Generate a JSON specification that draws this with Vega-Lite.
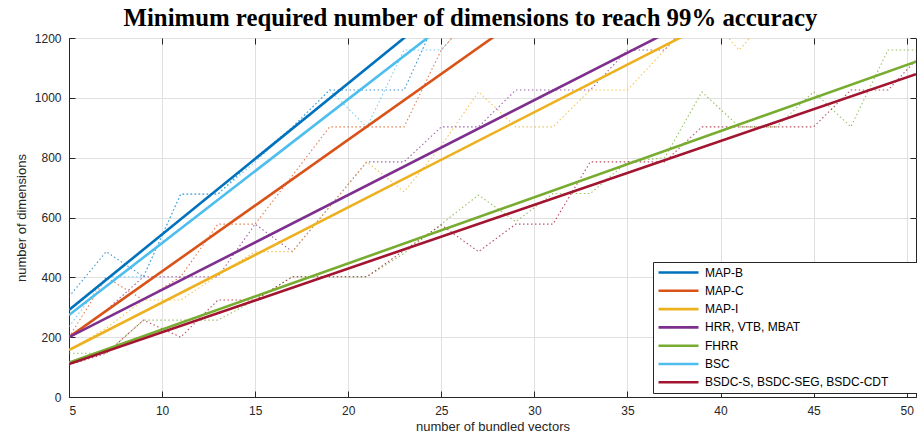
{
  "$schema": "https://vega.github.io/schema/vega-lite/v6.json",
  "width": 847,
  "height": 359,
  "autosize": "none",
  "padding": {"left": 69, "top": 38, "right": 1, "bottom": 45},
  "background": "white",
  "title": {
    "text": "Minimum required number of dimensions to reach 99% accuracy",
    "font": "Liberation Serif",
    "fontSize": 24.8,
    "fontWeight": "bold",
    "color": "black",
    "anchor": "middle",
    "frame": "group",
    "offset": 1,
    "dx": -22
  },
  "config": {
    "view": {"stroke": "#262626", "strokeWidth": 1},
    "axis": {
      "labelFont": "Liberation Sans",
      "titleFont": "Liberation Sans",
      "labelFontSize": 12,
      "titleFontSize": 13,
      "labelColor": "#262626",
      "titleColor": "#262626",
      "titleFontWeight": "normal",
      "gridColor": "#e0e0e0",
      "gridWidth": 1,
      "domainColor": "#262626",
      "tickColor": "#262626",
      "tickSize": -6,
      "labelPadding": 14
    },
    "legend": {
      "labelFont": "Liberation Sans",
      "labelFontSize": 12,
      "labelColor": "#000000"
    }
  },
  "resolve": {"axis": {"x": "independent", "y": "independent"}},
  "datasets": {
    "fit": [
      {"method": "MAP-B", "n": 5, "dims": 291},
      {"method": "MAP-B", "n": 50.5, "dims": 2589},
      {"method": "MAP-C", "n": 5, "dims": 200},
      {"method": "MAP-C", "n": 50.5, "dims": 2202},
      {"method": "MAP-I", "n": 5, "dims": 157},
      {"method": "MAP-I", "n": 50.5, "dims": 1604},
      {"method": "HRR, VTB, MBAT", "n": 5, "dims": 200},
      {"method": "HRR, VTB, MBAT", "n": 50.5, "dims": 1642},
      {"method": "FHRR", "n": 5, "dims": 115},
      {"method": "FHRR", "n": 50.5, "dims": 1121},
      {"method": "BSC", "n": 5, "dims": 274},
      {"method": "BSC", "n": 50.5, "dims": 2463},
      {"method": "BSDC-S, BSDC-SEG, BSDC-CDT", "n": 5, "dims": 110},
      {"method": "BSDC-S, BSDC-SEG, BSDC-CDT", "n": 50.5, "dims": 1079}
    ],
    "meas": [
      {"method": "MAP-B", "n": 5, "dims": 335},
      {"method": "MAP-B", "n": 7, "dims": 486},
      {"method": "MAP-B", "n": 9, "dims": 402},
      {"method": "MAP-B", "n": 11, "dims": 678},
      {"method": "MAP-B", "n": 13, "dims": 678},
      {"method": "MAP-B", "n": 15, "dims": 798},
      {"method": "MAP-B", "n": 17, "dims": 902},
      {"method": "MAP-B", "n": 19, "dims": 1026},
      {"method": "MAP-B", "n": 21, "dims": 1026},
      {"method": "MAP-B", "n": 23, "dims": 1026},
      {"method": "MAP-B", "n": 25, "dims": 1300},
      {"method": "BSC", "n": 5, "dims": 235},
      {"method": "BSC", "n": 7, "dims": 402},
      {"method": "BSC", "n": 9, "dims": 402},
      {"method": "BSC", "n": 11, "dims": 678},
      {"method": "BSC", "n": 13, "dims": 678},
      {"method": "BSC", "n": 15, "dims": 786},
      {"method": "BSC", "n": 17, "dims": 902},
      {"method": "BSC", "n": 19, "dims": 1026},
      {"method": "BSC", "n": 21, "dims": 902},
      {"method": "BSC", "n": 23, "dims": 1160},
      {"method": "BSC", "n": 25, "dims": 1160},
      {"method": "BSC", "n": 27, "dims": 1300},
      {"method": "MAP-C", "n": 5, "dims": 200},
      {"method": "MAP-C", "n": 7, "dims": 400},
      {"method": "MAP-C", "n": 9, "dims": 324},
      {"method": "MAP-C", "n": 11, "dims": 402},
      {"method": "MAP-C", "n": 13, "dims": 578},
      {"method": "MAP-C", "n": 15, "dims": 578},
      {"method": "MAP-C", "n": 17, "dims": 740},
      {"method": "MAP-C", "n": 19, "dims": 903},
      {"method": "MAP-C", "n": 21, "dims": 903},
      {"method": "MAP-C", "n": 23, "dims": 903},
      {"method": "MAP-C", "n": 25, "dims": 1160},
      {"method": "MAP-C", "n": 27, "dims": 1300},
      {"method": "HRR, VTB, MBAT", "n": 5, "dims": 200},
      {"method": "HRR, VTB, MBAT", "n": 7, "dims": 290},
      {"method": "HRR, VTB, MBAT", "n": 9, "dims": 402},
      {"method": "HRR, VTB, MBAT", "n": 11, "dims": 402},
      {"method": "HRR, VTB, MBAT", "n": 13, "dims": 402},
      {"method": "HRR, VTB, MBAT", "n": 15, "dims": 578},
      {"method": "HRR, VTB, MBAT", "n": 17, "dims": 486},
      {"method": "HRR, VTB, MBAT", "n": 19, "dims": 636},
      {"method": "HRR, VTB, MBAT", "n": 21, "dims": 786},
      {"method": "HRR, VTB, MBAT", "n": 23, "dims": 786},
      {"method": "HRR, VTB, MBAT", "n": 25, "dims": 903},
      {"method": "HRR, VTB, MBAT", "n": 27, "dims": 903},
      {"method": "HRR, VTB, MBAT", "n": 29, "dims": 1026},
      {"method": "HRR, VTB, MBAT", "n": 31, "dims": 1026},
      {"method": "HRR, VTB, MBAT", "n": 33, "dims": 1026},
      {"method": "HRR, VTB, MBAT", "n": 35, "dims": 1160},
      {"method": "HRR, VTB, MBAT", "n": 37, "dims": 1160},
      {"method": "HRR, VTB, MBAT", "n": 39, "dims": 1300},
      {"method": "MAP-I", "n": 5, "dims": 157},
      {"method": "MAP-I", "n": 7, "dims": 230},
      {"method": "MAP-I", "n": 9, "dims": 324},
      {"method": "MAP-I", "n": 11, "dims": 324},
      {"method": "MAP-I", "n": 13, "dims": 407},
      {"method": "MAP-I", "n": 15, "dims": 486},
      {"method": "MAP-I", "n": 17, "dims": 486},
      {"method": "MAP-I", "n": 19, "dims": 636},
      {"method": "MAP-I", "n": 21, "dims": 786},
      {"method": "MAP-I", "n": 23, "dims": 686},
      {"method": "MAP-I", "n": 25, "dims": 840},
      {"method": "MAP-I", "n": 27, "dims": 1020},
      {"method": "MAP-I", "n": 29, "dims": 903},
      {"method": "MAP-I", "n": 31, "dims": 903},
      {"method": "MAP-I", "n": 33, "dims": 1026},
      {"method": "MAP-I", "n": 35, "dims": 1026},
      {"method": "MAP-I", "n": 37, "dims": 1160},
      {"method": "MAP-I", "n": 39, "dims": 1300},
      {"method": "MAP-I", "n": 41, "dims": 1160},
      {"method": "MAP-I", "n": 43, "dims": 1300},
      {"method": "FHRR", "n": 5, "dims": 146},
      {"method": "FHRR", "n": 7, "dims": 146},
      {"method": "FHRR", "n": 9, "dims": 257},
      {"method": "FHRR", "n": 11, "dims": 257},
      {"method": "FHRR", "n": 13, "dims": 257},
      {"method": "FHRR", "n": 15, "dims": 324},
      {"method": "FHRR", "n": 17, "dims": 402},
      {"method": "FHRR", "n": 19, "dims": 402},
      {"method": "FHRR", "n": 21, "dims": 402},
      {"method": "FHRR", "n": 23, "dims": 480},
      {"method": "FHRR", "n": 25, "dims": 578},
      {"method": "FHRR", "n": 27, "dims": 675},
      {"method": "FHRR", "n": 29, "dims": 586},
      {"method": "FHRR", "n": 31, "dims": 680},
      {"method": "FHRR", "n": 33, "dims": 680},
      {"method": "FHRR", "n": 35, "dims": 786},
      {"method": "FHRR", "n": 37, "dims": 800},
      {"method": "FHRR", "n": 39, "dims": 1020},
      {"method": "FHRR", "n": 41, "dims": 903},
      {"method": "FHRR", "n": 43, "dims": 903},
      {"method": "FHRR", "n": 45, "dims": 1020},
      {"method": "FHRR", "n": 47, "dims": 903},
      {"method": "FHRR", "n": 49, "dims": 1160},
      {"method": "FHRR", "n": 51, "dims": 1160},
      {"method": "BSDC-S, BSDC-SEG, BSDC-CDT", "n": 5, "dims": 107},
      {"method": "BSDC-S, BSDC-SEG, BSDC-CDT", "n": 7, "dims": 146},
      {"method": "BSDC-S, BSDC-SEG, BSDC-CDT", "n": 9, "dims": 257},
      {"method": "BSDC-S, BSDC-SEG, BSDC-CDT", "n": 11, "dims": 200},
      {"method": "BSDC-S, BSDC-SEG, BSDC-CDT", "n": 13, "dims": 324},
      {"method": "BSDC-S, BSDC-SEG, BSDC-CDT", "n": 15, "dims": 324},
      {"method": "BSDC-S, BSDC-SEG, BSDC-CDT", "n": 17, "dims": 402},
      {"method": "BSDC-S, BSDC-SEG, BSDC-CDT", "n": 19, "dims": 402},
      {"method": "BSDC-S, BSDC-SEG, BSDC-CDT", "n": 21, "dims": 402},
      {"method": "BSDC-S, BSDC-SEG, BSDC-CDT", "n": 23, "dims": 490},
      {"method": "BSDC-S, BSDC-SEG, BSDC-CDT", "n": 25, "dims": 575},
      {"method": "BSDC-S, BSDC-SEG, BSDC-CDT", "n": 27, "dims": 486},
      {"method": "BSDC-S, BSDC-SEG, BSDC-CDT", "n": 29, "dims": 578},
      {"method": "BSDC-S, BSDC-SEG, BSDC-CDT", "n": 31, "dims": 578},
      {"method": "BSDC-S, BSDC-SEG, BSDC-CDT", "n": 33, "dims": 786},
      {"method": "BSDC-S, BSDC-SEG, BSDC-CDT", "n": 35, "dims": 786},
      {"method": "BSDC-S, BSDC-SEG, BSDC-CDT", "n": 37, "dims": 786},
      {"method": "BSDC-S, BSDC-SEG, BSDC-CDT", "n": 39, "dims": 903},
      {"method": "BSDC-S, BSDC-SEG, BSDC-CDT", "n": 41, "dims": 903},
      {"method": "BSDC-S, BSDC-SEG, BSDC-CDT", "n": 43, "dims": 903},
      {"method": "BSDC-S, BSDC-SEG, BSDC-CDT", "n": 45, "dims": 903},
      {"method": "BSDC-S, BSDC-SEG, BSDC-CDT", "n": 47, "dims": 1026},
      {"method": "BSDC-S, BSDC-SEG, BSDC-CDT", "n": 49, "dims": 1026},
      {"method": "BSDC-S, BSDC-SEG, BSDC-CDT", "n": 51, "dims": 1160}
    ]
  },
  "layer": [
    {
      "data": {"name": "meas"},
      "mark": {"type": "line", "clip": true, "strokeWidth": 1.1, "strokeDash": [1.5, 2.5], "opacity": 0.75},
      "encoding": {
        "x": {"field": "n", "type": "quantitative", "scale": {"domain": [5, 50.5], "nice": false, "zero": false},
              "axis": {"title": "number of bundled vectors", "values": [5,10,15,20,25,30,35,40,45,50], "titlePadding": 4}},
        "y": {"field": "dims", "type": "quantitative", "scale": {"domain": [0, 1200], "nice": false},
              "axis": {"title": "number of dimensions", "values": [0,200,400,600,800,1000,1200], "format": "d", "titlePadding": 6}},
        "color": {"field": "method", "type": "nominal",
          "scale": {"domain": ["MAP-B","MAP-C","MAP-I","HRR, VTB, MBAT","FHRR","BSC","BSDC-S, BSDC-SEG, BSDC-CDT"],
                    "range": ["#0072BD","#D95319","#EDB120","#7E2F8E","#77AC30","#4DBEEE","#A2142F"]},
          "legend": {
            "title": "\u00a0",
            "titleOrient": "right",
            "titlePadding": 38,
            "orient": "none",
            "legendX": 584,
            "legendY": 224,
            "symbolType": "M-1,0H7",
            "symbolSize": 100,
            "symbolStrokeWidth": 2.6,
            "symbolDash": [],
            "symbolOpacity": 1,
            "rowPadding": 5.3,
            "labelOffset": 35,
            "strokeColor": "#262626",
            "fillColor": "white",
            "padding": 4,
            "labelLimit": 300
          }
        },
        "detail": {"field": "method"}
      }
    },
    {
      "data": {"name": "fit"},
      "mark": {"type": "line", "clip": true, "strokeWidth": 2.6},
      "encoding": {
        "x": {"field": "n", "type": "quantitative",
              "axis": {"orient": "top", "labels": false, "title": null, "grid": false, "domain": false, "values": [5,10,15,20,25,30,35,40,45,50]}},
        "y": {"field": "dims", "type": "quantitative",
              "axis": {"orient": "right", "labels": false, "title": null, "grid": false, "domain": false, "values": [0,200,400,600,800,1000,1200]}},
        "color": {"field": "method", "type": "nominal",
          "scale": {"domain": ["MAP-B","MAP-C","MAP-I","HRR, VTB, MBAT","FHRR","BSC","BSDC-S, BSDC-SEG, BSDC-CDT"],
                    "range": ["#0072BD","#D95319","#EDB120","#7E2F8E","#77AC30","#4DBEEE","#A2142F"]}
        }
      }
    }
  ]
}
